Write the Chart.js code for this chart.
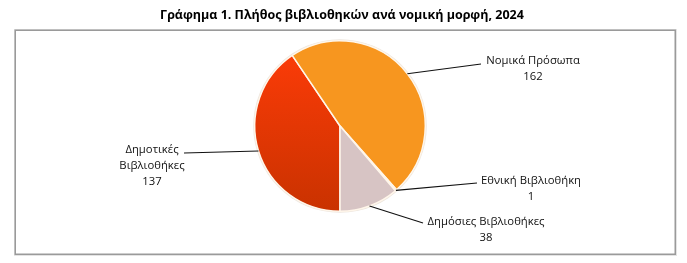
<!DOCTYPE html>
<html>
<head>
<meta charset="utf-8">
<script src="https://cdn.jsdelivr.net/npm/chart.js@4.4.1/dist/chart.umd.min.js"></script>
<style>
  html, body { margin: 0; padding: 0; background: #fff; }
  #wrap { position: relative; width: 687px; height: 263px; }
</style>
</head>
<body>
<div id="wrap"><canvas id="libChart" width="687" height="263"></canvas></div>
<script>
// data
const chartTitle = 'Γράφημα 1. Πλήθος βιβλιοθηκών ανά νομική μορφή, 2024';
const categories = [['Δημοτικές', 'Βιβλιοθήκες'], ['Νομικά Πρόσωπα'], ['Εθνική Βιβλιοθήκη'], ['Δημόσιες Βιβλιοθήκες']];
const counts = [137, 162, 1, 38];

// where each label's text sits and where its leader line ends
const labelPos = [
  { x: 152, y: 150, lineX: 184, lineY: 153 },
  { x: 533, y: 61, lineX: 481, lineY: 64 },
  { x: 531, y: 181, lineX: 477, lineY: 183 },
  { x: 486, y: 222, lineX: 423, lineY: 223 }
];

const FONT = "'Open Sans', 'Noto Sans', sans-serif";

const sliceColor = (ctx) => {
  const i = ctx.dataIndex;
  const area = ctx.chart.chartArea;
  if (i === 0) {
    if (!area) return '#E63A00';
    const g = ctx.chart.ctx.createLinearGradient(0, area.top, 0, area.bottom);
    g.addColorStop(0, '#FF3C08');
    g.addColorStop(1, '#C93200');
    return g;
  }
  if (i === 1) return '#F7961F';
  if (i === 2) return '#F3E9DF';
  return '#D7C4C4';
};

const decorPlugin = {
  id: 'decor',
  beforeDraw(chart) {
    const c = chart.ctx;
    c.save();
    c.fillStyle = '#fff';
    c.fillRect(0, 0, chart.width, chart.height);
    // frame
    c.strokeStyle = '#E4E4E4';
    c.lineWidth = 1;
    c.strokeRect(14.5, 29.5, 662, 226);
    c.strokeStyle = '#9A9A9A';
    c.lineWidth = 1.5;
    c.strokeRect(15.25, 30.25, 660, 224);
    // title
    c.fillStyle = '#000';
    c.font = 'bold 12.5px ' + FONT;
    c.textAlign = 'center';
    c.textBaseline = 'middle';
    c.fillText(chartTitle, 342, 15);
    // soft halo around the pie
    const arc = chart.getDatasetMeta(0).data[0];
    if (arc) {
      c.beginPath();
      c.arc(arc.x, arc.y, arc.outerRadius + 1.5, 0, Math.PI * 2);
      c.fillStyle = '#EDE6DE';
      c.fill();
    }
    c.restore();
  },
  afterDraw(chart) {
    const c = chart.ctx;
    const meta = chart.getDatasetMeta(0);
    c.save();
    c.font = '11.3px ' + FONT;
    c.textAlign = 'center';
    c.textBaseline = 'middle';
    meta.data.forEach((arc, i) => {
      const p = arc.getProps(['x', 'y', 'startAngle', 'endAngle', 'outerRadius']);
      const mid = (p.startAngle + p.endAngle) / 2;
      const sx = p.x + Math.cos(mid) * p.outerRadius;
      const sy = p.y + Math.sin(mid) * p.outerRadius;
      const lp = labelPos[i];
      c.strokeStyle = '#111';
      c.lineWidth = 1.1;
      c.beginPath();
      c.moveTo(sx, sy);
      c.lineTo(lp.lineX, lp.lineY);
      c.stroke();
      c.fillStyle = '#111';
      const lines = categories[i].concat([String(counts[i])]);
      lines.forEach((t, k) => c.fillText(t, lp.x, lp.y + k * 16));
    });
    c.restore();
  }
};

new Chart(document.getElementById('libChart'), {
  type: 'pie',
  data: {
    labels: categories.map(l => l.join(' ')),
    datasets: [{
      data: counts,
      backgroundColor: sliceColor,
      borderColor: '#FFF6EA',
      borderWidth: 1.5
    }]
  },
  options: {
    responsive: false,
    animation: false,
    rotation: 180,
    layout: { padding: { left: 254, right: 261, top: 40, bottom: 51 } },
    plugins: {
      legend: { display: false },
      tooltip: { enabled: false },
      title: { display: false }
    }
  },
  plugins: [decorPlugin]
});
</script>
</body>
</html>
